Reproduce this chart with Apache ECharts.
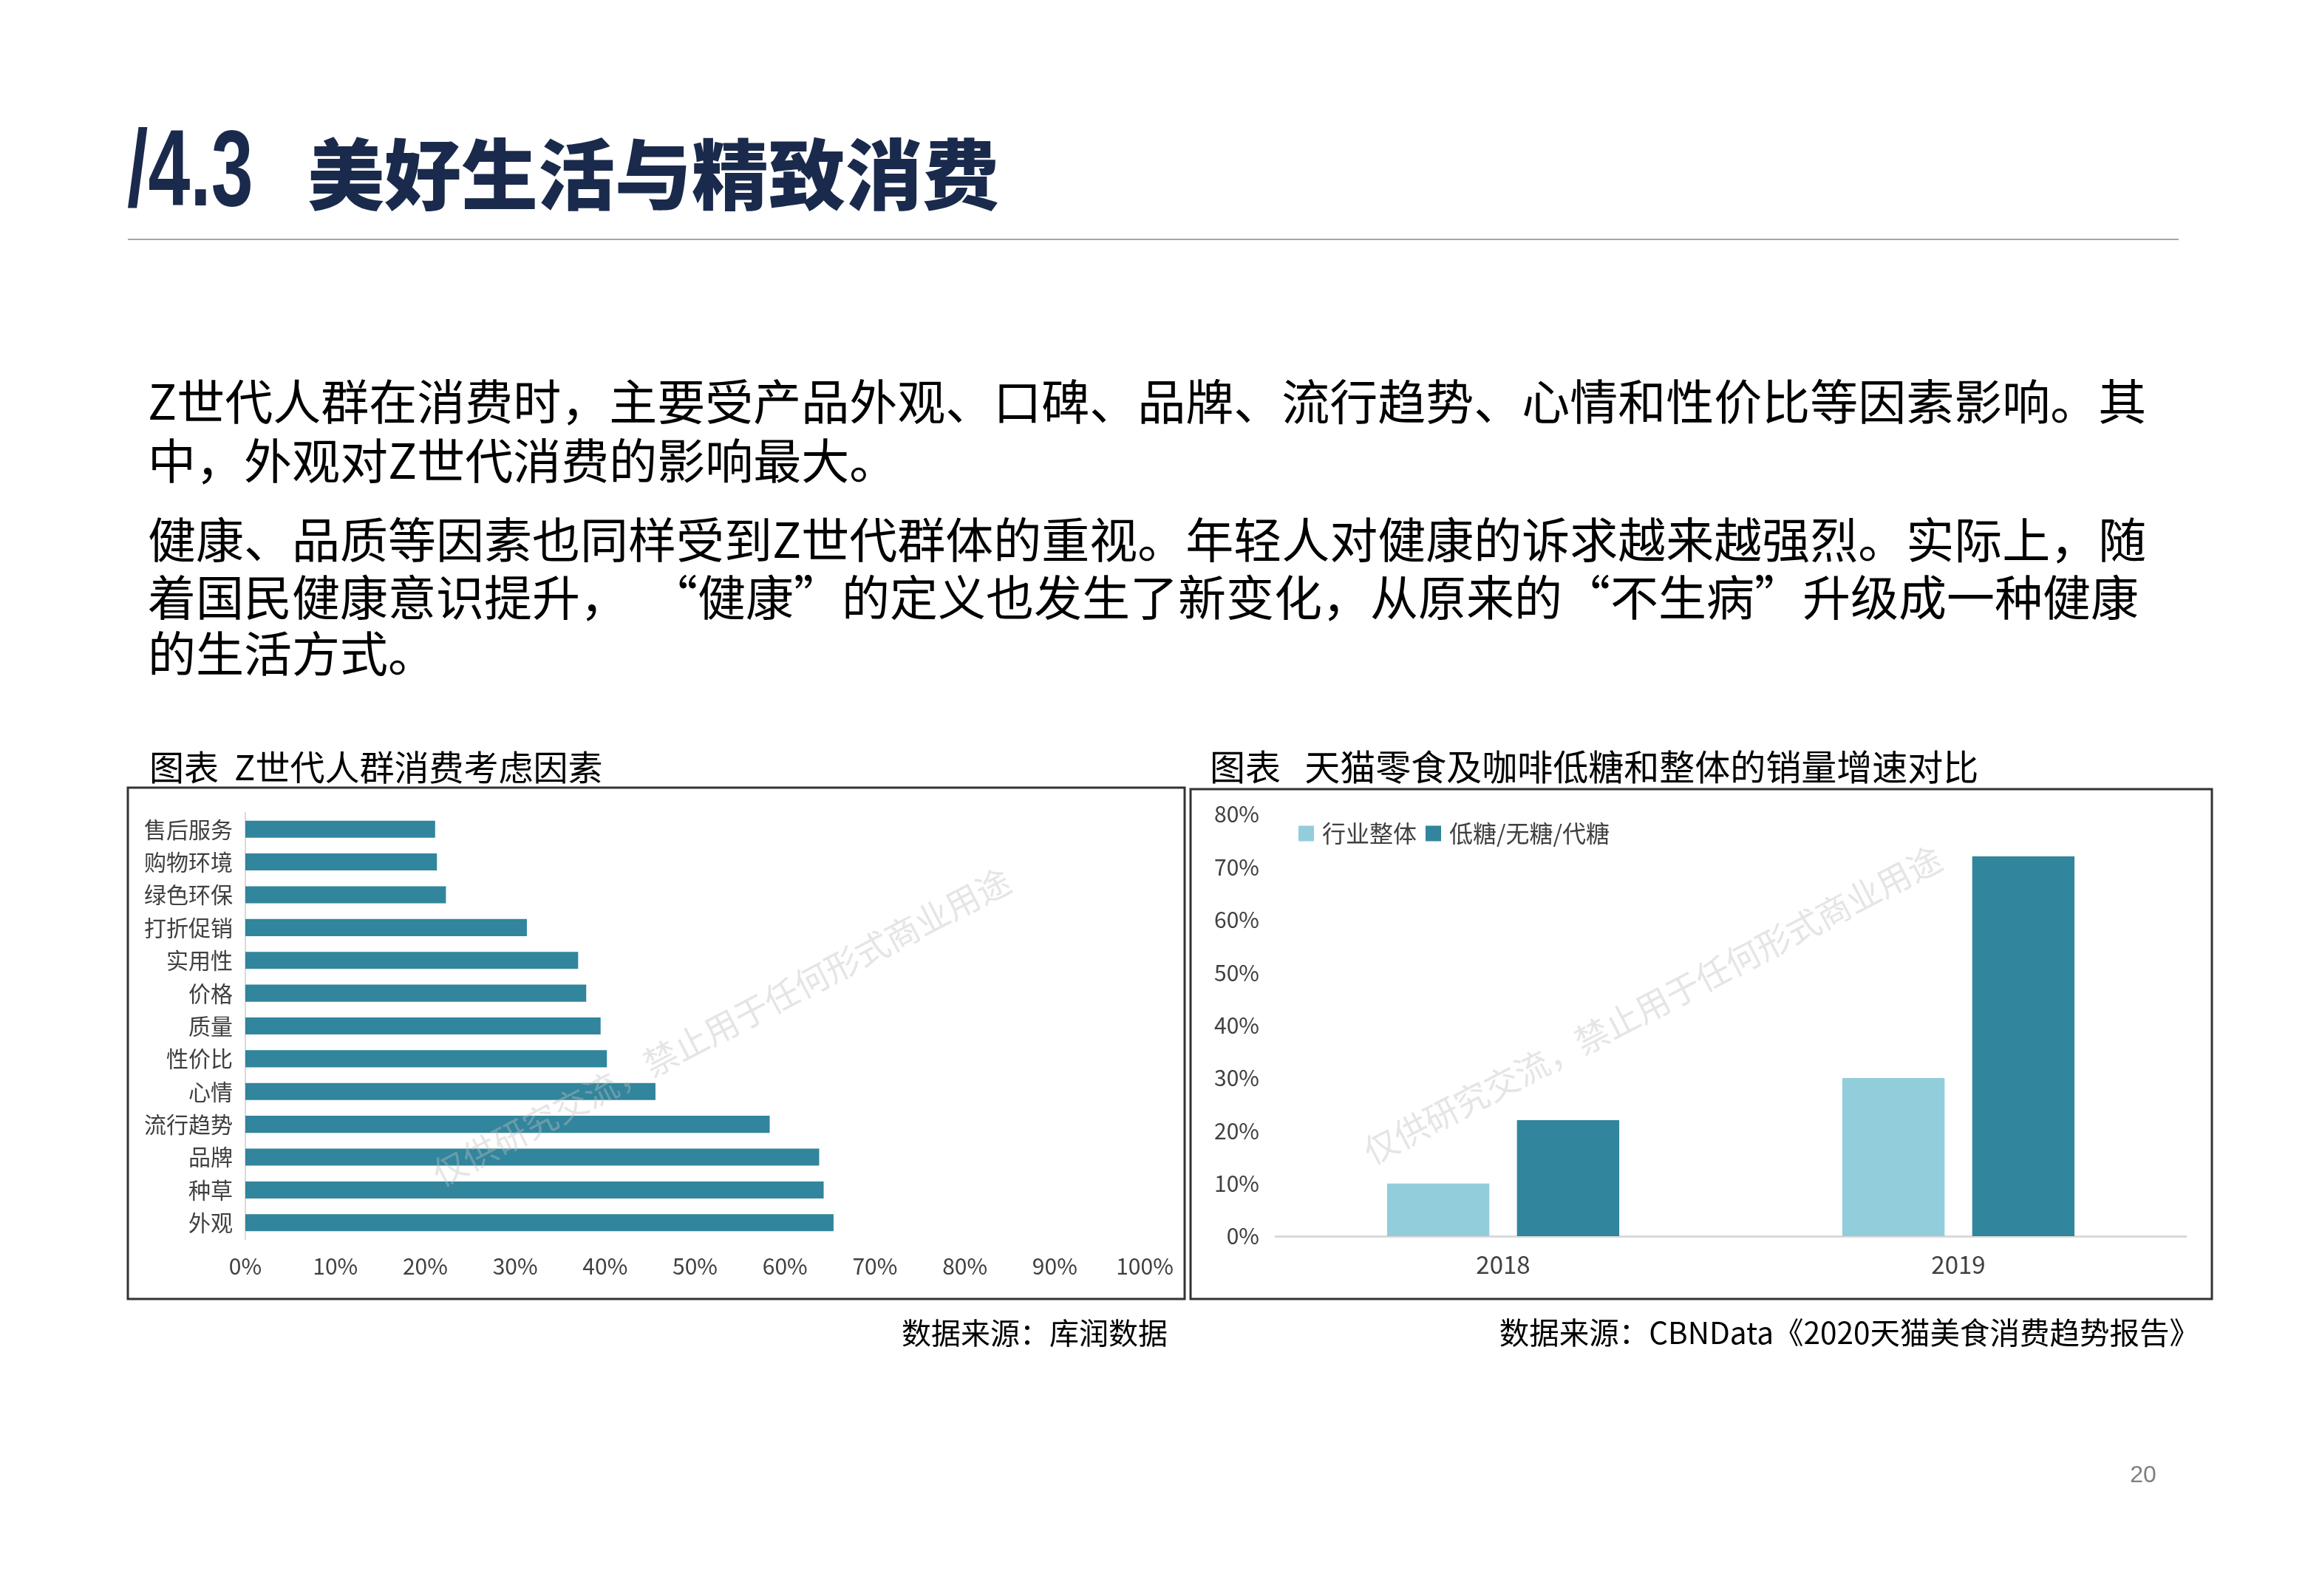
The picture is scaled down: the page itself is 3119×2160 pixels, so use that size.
<!DOCTYPE html>
<html>
<head>
<meta charset="utf-8">
<script src="https://cdn.jsdelivr.net/npm/echarts@6/dist/echarts.min.js"></script>
<style>
  html, body { margin: 0; padding: 0; background: #fff; }
  #page { width: 3119px; height: 2160px; }
</style>
</head>
<body>
<div id="page"></div>
<script>
// 左图：Z世代人群消费考虑因素（%）
const factors = ['售后服务', '购物环境', '绿色环保', '打折促销', '实用性', '价格', '质量', '性价比', '心情', '流行趋势', '品牌', '种草', '外观'];
const factorValues = [21.1, 21.3, 22.3, 31.3, 37.0, 37.9, 39.5, 40.2, 45.6, 58.3, 63.8, 64.3, 65.4];

// 右图：天猫零食及咖啡低糖和整体的销量增速（%）
const years = ['2018', '2019'];
const industryGrowth = [10, 30];
const lowSugarGrowth = [22, 72];

const bodyLines = [
  'Z世代人群在消费时，主要受产品外观、口碑、品牌、流行趋势、心情和性价比等因素影响。其',
  '中，外观对Z世代消费的影响最大。',
  '健康、品质等因素也同样受到Z世代群体的重视。年轻人对健康的诉求越来越强烈。实际上，随',
  '着国民健康意识提升，  “健康”的定义也发生了新变化，从原来的“不生病”升级成一种健康',
  '的生活方式。'
];
const bodyLineY = [543, 623, 730, 808, 884];

const CJK = '"Noto Sans CJK SC", "Microsoft YaHei", sans-serif';
const DARK = '#31859C';
const LIGHT = '#92CDDC';
const watermark = '仅供研究交流，禁止用于任何形式商业用途';

const chart = echarts.init(document.getElementById('page'));

const graphics = [
  // 标题
  {
    type: 'text', x: 172, y: 238, scaleX: 0.7,
    style: { text: '/4.3', fontFamily: '"Liberation Sans", Arial, sans-serif', fontWeight: 'bold', fontSize: 146, fill: '#1A2A4C', verticalAlign: 'middle' }
  },
  {
    type: 'text', x: 416, y: 236,
    style: { text: '美好生活与精致消费', fontFamily: CJK, fontWeight: 900, fontSize: 104, fill: '#1A2A4C', verticalAlign: 'middle' }
  },
  {
    type: 'line', shape: { x1: 173, y1: 324, x2: 2948, y2: 324 },
    style: { stroke: '#a6a6a6', lineWidth: 2 }
  },
  // 图表标题
  {
    type: 'text', x: 202, y: 1038,
    style: { text: '图表  Z世代人群消费考虑因素', fontFamily: CJK, fontSize: 47, fill: '#000', verticalAlign: 'middle' }
  },
  {
    type: 'text', x: 1637, y: 1038,
    style: { text: '图表   天猫零食及咖啡低糖和整体的销量增速对比', fontFamily: CJK, fontSize: 48, fill: '#000', verticalAlign: 'middle' }
  },
  // 图表边框
  {
    type: 'rect', shape: { x: 173, y: 1066, width: 1430, height: 692 },
    style: { fill: 'none', stroke: '#333', lineWidth: 3 }
  },
  {
    type: 'rect', shape: { x: 1611, y: 1068, width: 1382, height: 690 },
    style: { fill: 'none', stroke: '#333', lineWidth: 3 }
  },
  // 数据来源
  {
    type: 'text', x: 1580, y: 1804,
    style: { text: '数据来源：库润数据', fontFamily: CJK, fontSize: 40, fill: '#000', align: 'right', verticalAlign: 'middle' }
  },
  {
    type: 'text', x: 2976, y: 1804,
    style: { text: '数据来源：CBNData《2020天猫美食消费趋势报告》', fontFamily: CJK, fontSize: 40.5, fill: '#000', align: 'right', verticalAlign: 'middle' }
  },
  // 页码
  {
    type: 'text', x: 2900, y: 1997,
    style: { text: '20', fontFamily: '"Liberation Sans", Arial, sans-serif', fontSize: 32, fill: '#808080', align: 'center', verticalAlign: 'middle' }
  },
  // 水印
  {
    type: 'text', x: 976, y: 1390, rotation: 0.48, z: 100,
    style: { text: watermark, fontFamily: CJK, fontSize: 46, fill: 'rgba(190,190,190,0.4)', align: 'center', verticalAlign: 'middle' }
  },
  {
    type: 'text', x: 2236, y: 1360, rotation: 0.48, z: 100,
    style: { text: watermark, fontFamily: CJK, fontSize: 46, fill: 'rgba(190,190,190,0.4)', align: 'center', verticalAlign: 'middle' }
  }
];

bodyLines.forEach((line, i) => {
  graphics.push({
    type: 'text', x: 200, y: bodyLineY[i],
    style: { text: line, fontFamily: CJK, fontSize: 65, fill: '#000', verticalAlign: 'middle' }
  });
});

const labelStyle = { fontFamily: CJK, fontSize: 30, color: '#404040' };

const option = {
  backgroundColor: '#fff',
  animation: false,
  textStyle: { fontFamily: CJK },
  grid: [
    { left: 332, top: 1100, width: 1217, height: 577 },
    { left: 1726, top: 1102, width: 1232, height: 571 }
  ],
  legend: {
    data: ['行业整体', '低糖/无糖/代糖'],
    left: 1757, top: 1112,
    icon: 'rect', itemWidth: 21, itemHeight: 21, itemGap: 12,
    padding: 0,
    textStyle: { fontFamily: CJK, fontSize: 32, color: '#404040', padding: [0, 0, 0, 6] }
  },
  xAxis: [
    {
      gridIndex: 0, type: 'value', min: 0, max: 100, interval: 10,
      axisLabel: Object.assign({ formatter: '{value}%', margin: 22 }, labelStyle),
      splitLine: { show: false }, axisLine: { show: false }, axisTick: { show: false }
    },
    {
      gridIndex: 1, type: 'category', data: years,
      axisLine: { lineStyle: { color: '#d9d9d9', width: 3 } },
      axisTick: { show: false },
      axisLabel: Object.assign({}, labelStyle, { fontSize: 33, margin: 22 })
    }
  ],
  yAxis: [
    {
      gridIndex: 0, type: 'category', inverse: true, data: factors,
      axisLine: { lineStyle: { color: '#d9d9d9', width: 2 } },
      axisTick: { show: false },
      axisLabel: Object.assign({ margin: 17 }, labelStyle)
    },
    {
      gridIndex: 1, type: 'value', min: 0, max: 80, interval: 10,
      axisLabel: Object.assign({ formatter: '{value}%', margin: 22 }, labelStyle),
      splitLine: { show: false }, axisLine: { show: false }, axisTick: { show: false }
    }
  ],
  series: [
    {
      type: 'bar', xAxisIndex: 0, yAxisIndex: 0,
      data: factorValues, barCategoryGap: '48%',
      itemStyle: { color: DARK }
    },
    {
      name: '行业整体', type: 'bar', xAxisIndex: 1, yAxisIndex: 1,
      data: industryGrowth, barGap: '27%', barCategoryGap: '49%',
      itemStyle: { color: LIGHT }
    },
    {
      name: '低糖/无糖/代糖', type: 'bar', xAxisIndex: 1, yAxisIndex: 1,
      data: lowSugarGrowth, barGap: '27%', barCategoryGap: '49%',
      itemStyle: { color: DARK }
    }
  ],
  graphic: graphics
};

chart.setOption(option);
</script>
</body>
</html>
